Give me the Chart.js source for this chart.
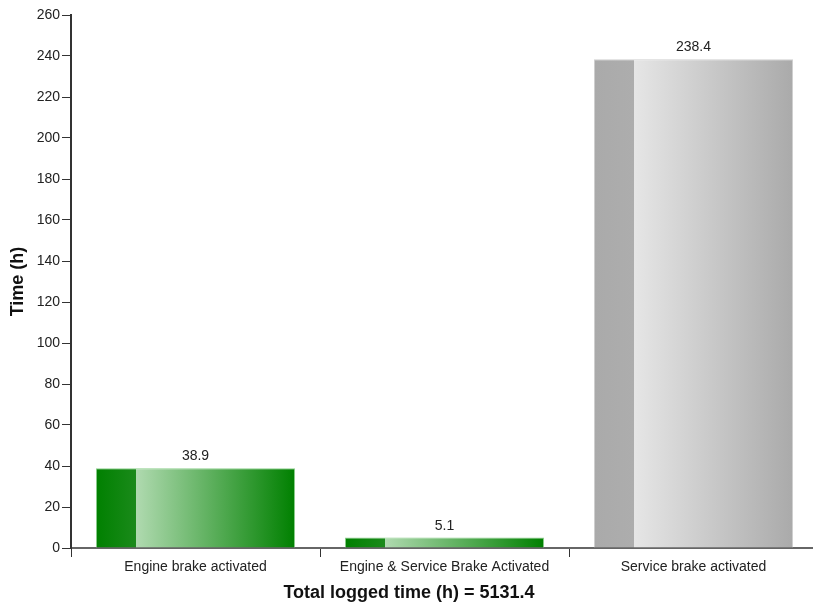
<!DOCTYPE html>
<html>
<head>
<meta charset="utf-8">
<script src="https://cdn.jsdelivr.net/npm/chart.js@4/dist/chart.umd.min.js"></script>
<style>
  html, body { margin: 0; padding: 0; background: #fff; overflow: hidden; }
  #wrap { width: 813px; height: 607px; overflow: hidden; position: relative; }
  canvas { display: block; }
</style>
</head>
<body>
<div id="wrap"><canvas id="c" width="818" height="607"></canvas></div>
<script>
const categories = ["Engine brake activated", "Engine & Service Brake Activated", "Service brake activated"];
const timeValues = [38.9, 5.1, 238.4];
const barTheme = ["green", "green", "gray"];
const yAxisTitle = "Time (h)";
const xAxisTitle = "Total logged time (h) = 5131.4";

const palettes = {
  green: { dark: "#008000", dark2: "#1a8a1a", light: "#b0dab0", border: "#8ccf8c" },
  gray:  { dark: "#aaaaaa", dark2: "#adadad", light: "#e6e6e6", border: "#cfcfcf" }
};

const FONT = "'Liberation Sans', Arial, sans-serif";

const gradientPlugin = {
  id: "barGradient",
  beforeDatasetsDraw(chart) {
    const ctx = chart.ctx;
    const meta = chart.getDatasetMeta(0);
    meta.data.forEach((el, i) => {
      const p = palettes[barTheme[i]];
      const left = el.x - el.width / 2;
      const right = el.x + el.width / 2;
      const g = ctx.createLinearGradient(left, 0, right, 0);
      g.addColorStop(0, p.dark);
      g.addColorStop(0.2, p.dark2);
      g.addColorStop(0.2, p.light);
      g.addColorStop(1, p.dark);
      el.options.backgroundColor = g;
      el.options.borderColor = p.border;
    });
  }
};

const labelPlugin = {
  id: "valueLabels",
  afterDatasetsDraw(chart) {
    const ctx = chart.ctx;
    const meta = chart.getDatasetMeta(0);
    ctx.save();
    ctx.font = "14px " + FONT;
    ctx.fillStyle = "#222222";
    ctx.textAlign = "center";
    ctx.textBaseline = "alphabetic";
    meta.data.forEach((el, i) => {
      ctx.fillText(String(timeValues[i]), el.x, el.y - 8);
    });
    ctx.restore();
  }
};

new Chart(document.getElementById("c"), {
  type: "bar",
  data: {
    labels: categories,
    datasets: [{
      data: timeValues,
      backgroundColor: (c) => barTheme[c.dataIndex] === "green" ? "#008000" : "#aaaaaa",
      borderColor: (c) => palettes[barTheme[c.dataIndex]].border,
      borderWidth: 1,
      categoryPercentage: 0.8,
      barPercentage: 1.0
    }]
  },
  options: {
    responsive: false,
    animation: false,
    events: [],
    layout: { padding: { top: 15, left: 0, right: 0, bottom: 0 } },
    plugins: {
      legend: { display: false },
      tooltip: { enabled: false },
      title: {
        display: true, position: "bottom", fullSize: true, align: "center",
        text: xAxisTitle, color: "#111111",
        font: { family: FONT, size: 18, weight: "bold", lineHeight: 1.2 },
        padding: { top: 0, bottom: 3 }
      }
    },
    scales: {
      x: {
        offset: true,
        grid: { offset: true, drawOnChartArea: false, drawTicks: true, tickLength: 9, color: "#333333", lineWidth: 1 },
        border: { display: true, color: "#666666", width: 2 },
        ticks: { color: "#222222", font: { family: FONT, size: 14 }, padding: 2, maxRotation: 0, autoSkip: false },
        afterFit(s) { s.height = 59 - 24.6; }
      },
      y: {
        min: 0, max: 260,
        grid: { drawOnChartArea: false, drawTicks: true, tickLength: 9, color: "#333333", lineWidth: 1 },
        border: { display: true, color: "#333333", width: 2 },
        ticks: { stepSize: 20, color: "#222222", font: { family: FONT, size: 14 }, padding: 2 },
        title: { display: true, text: yAxisTitle, color: "#111111", font: { family: FONT, size: 18, weight: "bold" }, padding: { top: 7, bottom: 0 } },
        afterFit(s) { s.width = 71; }
      }
    }
  },
  plugins: [gradientPlugin, labelPlugin]
});
</script>
</body>
</html>
